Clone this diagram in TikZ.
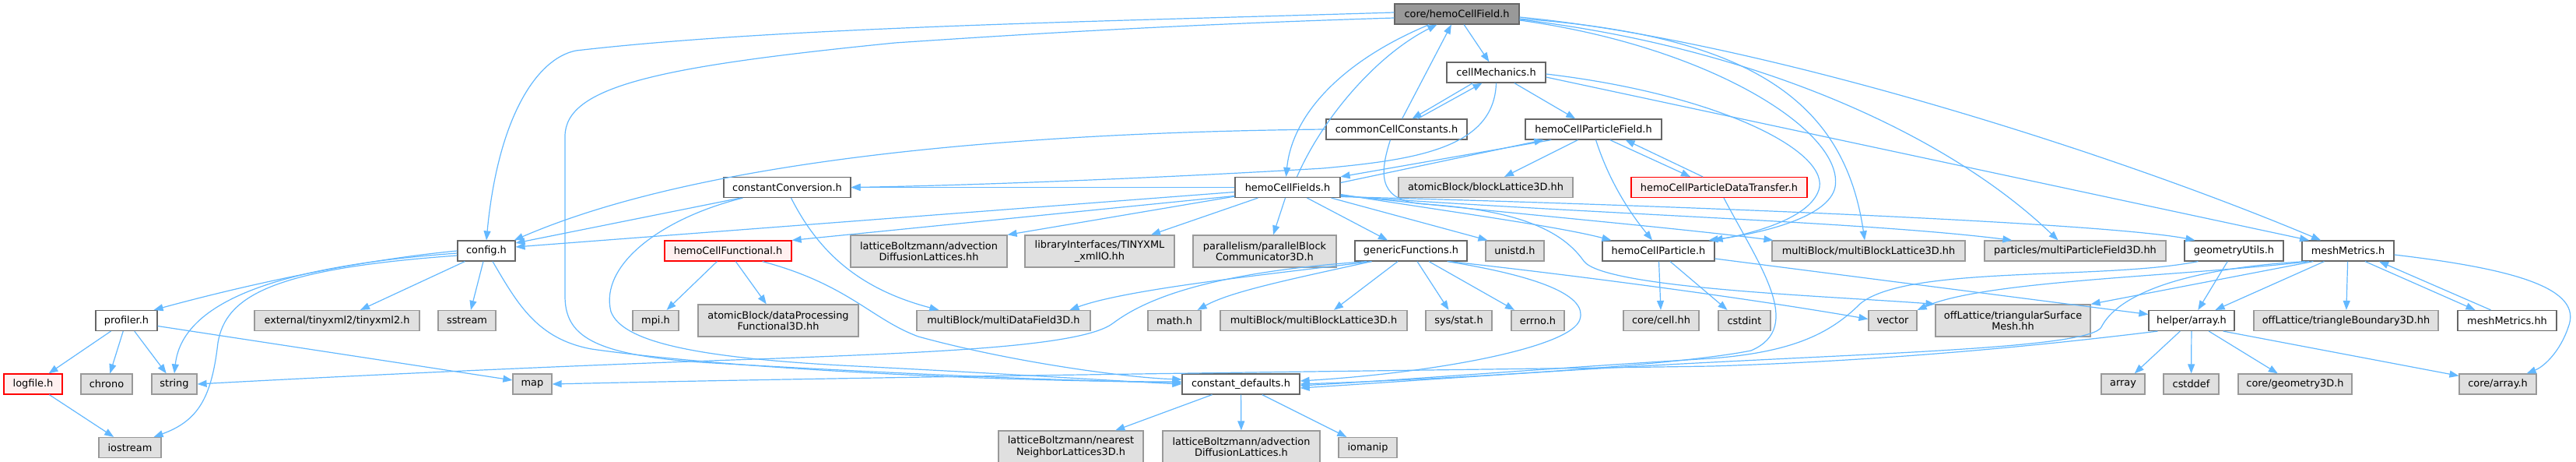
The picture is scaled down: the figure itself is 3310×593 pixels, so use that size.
\documentclass[tikz,border=0pt]{standalone}
\usepackage{fontspec}
\setmainfont{DejaVu Sans}
\usetikzlibrary{arrows.meta,calc}
\definecolor{edgec}{HTML}{63B8FF}
\definecolor{nborder}{HTML}{666666}
\definecolor{gfill}{HTML}{E0E0E0}
\definecolor{gborder}{HTML}{999999}
\definecolor{rootfill}{HTML}{999999}
\definecolor{rfill}{HTML}{FFF0F0}
\definecolor{rborder}{HTML}{FF0000}
\begin{document}
\begin{tikzpicture}[x=1pt,y=-1pt,
 base/.style={rectangle,inner sep=0pt,minimum height=26pt,line width=1.2pt,font=\fontsize{12.9}{14.5}\selectfont,align=center},
 wbox/.style={base,draw=nborder,fill=white},
 gbox/.style={base,draw=gborder,fill=gfill},
 rbox/.style={base,draw=rborder,fill=rfill},
 rootbox/.style={base,draw=nborder,fill=rootfill},
 tall/.style={minimum height=41pt},
 e/.style={draw=edgec,line width=1.2pt,-{Triangle[length=12pt,width=9pt]}},
]
\useasboundingbox (0,0) rectangle (3310,593);
% ---------- nodes ----------
\node[rootbox,minimum width=160pt] (root) at (1872,18) {core/hemoCellField.h};
\node[wbox,minimum width=127pt] (cm) at (1922.5,93) {cellMechanics.h};
\node[wbox,minimum width=181pt] (ccc) at (1794.5,166) {commonCellConstants.h};
\node[wbox,minimum width=175pt] (hcpf) at (2047.5,166) {hemoCellParticleField.h};
\node[wbox,minimum width=163pt] (cc) at (1011.5,240.5) {constantConversion.h};
\node[wbox,minimum width=135pt] (hcfs) at (1654.5,240.5) {hemoCellFields.h};
\node[gbox,minimum width=224pt] (blk) at (1909,240.5) {atomicBlock/blockLattice3D.hh};
\node[rbox,minimum width=226pt] (hcpdt) at (2209,240.5) {hemoCellParticleDataTransfer.h};
% row E
\node[wbox,minimum width=74pt] (cfg) at (625,322) {config.h};
\node[rbox,minimum width=163pt] (hcfn) at (935.5,322) {hemoCellFunctional.h};
\node[gbox,tall,minimum width=201pt] (adlhh) at (1193.5,322.5) {latticeBoltzmann/advection\\DiffusionLattices.hh};
\node[gbox,tall,minimum width=192pt] (txio) at (1413,322.5) {libraryInterfaces/TINYXML\\\_xmlIO.hh};
\node[gbox,tall,minimum width=184pt] (pbc) at (1625,322.5) {parallelism/parallelBlock\\Communicator3D.h};
\node[wbox,minimum width=144pt] (gf) at (1813,322) {genericFunctions.h};
\node[gbox,minimum width=75pt] (uni) at (1946.5,322) {unistd.h};
\node[wbox,minimum width=144pt] (hcp) at (2131,322) {hemoCellParticle.h};
\node[gbox,minimum width=248pt] (mblhh) at (2401,322) {multiBlock/multiBlockLattice3D.hh};
\node[gbox,minimum width=233pt] (mpf) at (2666.5,322) {particles/multiParticleField3D.hh};
\node[wbox,minimum width=127pt] (geo) at (2870.5,322) {geometryUtils.h};
\node[wbox,minimum width=118pt] (mm) at (3017,322) {meshMetrics.h};
% row F
\node[wbox,minimum width=79pt] (prof) at (162.5,411.5) {profiler.h};
\node[gbox,minimum width=212pt] (tx2) at (433,411.5) {external/tinyxml2/tinyxml2.h};
\node[gbox,minimum width=74pt] (sst) at (600,411.5) {sstream};
\node[gbox,minimum width=59pt] (mpi) at (842.5,411.5) {mpi.h};
\node[gbox,tall,minimum width=206pt] (dpf) at (1000,411.5) {atomicBlock/dataProcessing\\Functional3D.hh};
\node[gbox,minimum width=223pt] (mdf) at (1289.5,411.5) {multiBlock/multiDataField3D.h};
\node[gbox,minimum width=68pt] (math) at (1509,411.5) {math.h};
\node[gbox,minimum width=240pt] (mbl) at (1688,411.5) {multiBlock/multiBlockLattice3D.h};
\node[gbox,minimum width=85pt] (sys) at (1874.5,411.5) {sys/stat.h};
\node[gbox,minimum width=68pt] (errno) at (1976,411.5) {errno.h};
\node[gbox,minimum width=97pt] (cellhh) at (2134.5,411.5) {core/cell.hh};
\node[gbox,minimum width=67pt] (cstdint) at (2241.5,411.5) {cstdint};
\node[gbox,minimum width=62pt] (vec) at (2432,411.5) {vector};
\node[gbox,tall,minimum width=199pt] (tsm) at (2586.5,411.5) {offLattice/triangularSurface\\Mesh.hh};
\node[wbox,minimum width=110pt] (harr) at (2816,411.5) {helper/array.h};
\node[gbox,minimum width=237pt] (tb3d) at (3014.5,411.5) {offLattice/triangleBoundary3D.hh};
\node[wbox,minimum width=127pt] (mmhh) at (3221.5,411.5) {meshMetrics.hh};
% row G
\node[rbox,minimum width=75pt] (logf) at (42.5,493) {logfile.h};
\node[gbox,minimum width=66pt] (chrono) at (137,493) {chrono};
\node[gbox,minimum width=58pt] (str) at (224,493) {string};
\node[gbox,minimum width=50pt] (map) at (684,493) {map};
\node[wbox,minimum width=151pt] (cdef) at (1594.5,493) {constant\_defaults.h};
\node[gbox,minimum width=56pt] (arr) at (2728,493) {array};
\node[gbox,minimum width=71pt] (cstddef) at (2815.5,493) {cstddef};
\node[gbox,minimum width=146pt] (g3d) at (2949,493) {core/geometry3D.h};
\node[gbox,minimum width=99pt] (carr) at (3209.5,493) {core/array.h};
% row H
\node[gbox,minimum width=80pt] (ios) at (167,574.5) {iostream};
\node[gbox,tall,minimum width=186pt] (nnl) at (1376,573.5) {latticeBoltzmann/nearest\\NeighborLattices3D.h};
\node[gbox,tall,minimum width=202pt] (adlh) at (1595,573.5) {latticeBoltzmann/advection\\DiffusionLattices.h};
\node[gbox,minimum width=75pt] (ioman) at (1757.5,574.5) {iomanip};
% ---------- edges ----------
% root
\draw[e] (root) -- (cm);
\draw[e] ($(root.west)+(0,-2)$) .. controls (1400,28) and (1000,35) .. (740,65) .. controls (690,75) and (640,150) .. (cfg.north);
\draw[e] ($(root.west)+(0,5)$) .. controls (1500,32) and (1300,45) .. (1150,55) .. controls (850,85) and (726,110) .. (726,175) -- (726,380) .. controls (726,430) and (760,455) .. (900,465) .. controls (1150,480) and (1400,490) .. ($(cdef.west)+(0,-2)$);
\draw[e] ($(root.south west)+(45,0)$) .. controls (1720,80) and (1660,150) .. ($(hcfs.north)+(-2,0)$);
\draw[e] ($(root.east)+(0,4)$) .. controls (2250,50) and (2700,190) .. ($(mm.north)+(-35,0)$);
\draw[e] ($(root.east)+(0,6)$) .. controls (2250,45) and (2370,130) .. ($(mblhh.north)+(-5,0)$);
\draw[e] ($(root.east)+(0,7)$) .. controls (2250,60) and (2500,170) .. ($(mpf.north)+(-22,0)$);
\draw[e] ($(root.east)+(0,8)$) .. controls (2200,60) and (2370,170) .. (2358,240) .. controls (2350,280) and (2260,300) .. ($(hcp.north east)+(-8,0)$);
% commonCellConstants
\draw[e] (ccc) -- (root);
\draw[e] ($(ccc.north)+(27,0)$) -- ($(cm.south)+(-18,0)$);
\draw[e] (ccc.west) .. controls (1300,170) and (900,205) .. ($(cfg.north east)+(-2,0)$);
\draw[e] ($(ccc.south)+(-8,0)$) .. controls (1770,230) and (1775,258) .. (1830,262) .. controls (1960,270) and (2010,300) .. (2035,335) .. controls (2060,370) and (2350,380) .. (tsm.north west);
% cellMechanics
\draw[e] ($(cm.south)+(-30,0)$) -- ($(ccc.north)+(20,0)$);
\draw[e] (cm) -- (hcpf);
\draw[e] ($(cm.east)+(0,6)$) -- ($(mm.north)+(-50,0)$);
\draw[e] (cm.south) .. controls (1920,190) and (1820,205) .. (1700,216) .. controls (1500,228) and (1250,238) .. (cc.east);
\draw[e] ($(cm.east)+(0,2)$) .. controls (2200,120) and (2345,190) .. (2338,240) .. controls (2330,280) and (2250,300) .. ($(hcp.north east)+(-2,0)$);
% hemoCellFields
\draw[e] ($(hcfs.north)+(12,0)$) .. controls (1700,150) and (1770,70) .. ($(root.south west)+(55,0)$);
\draw[e] (hcfs) -- (cc);
\draw[e] ($(hcfs.west)+(0,6)$) -- ($(cfg.east)+(0,-5)$);
\draw[e] ($(hcfs.west)+(0,11)$) -- (hcfn.north east);
\draw[e] ($(hcfs.south west)+(0,-2)$) -- (adlhh.north east);
\draw[e] ($(hcfs.south west)+(30,0)$) -- ($(txio.north)+(66,0)$);
\draw[e] ($(hcfs.south)+(-3,0)$) -- ($(pbc.north)+(11,0)$);
\draw[e] ($(hcfs.south)+(25,0)$) -- ($(gf.north)+(-30,0)$);
\draw[e] ($(hcfs.south east)+(-12,0)$) -- ($(uni.north west)+(3,0)$);
\draw[e] ($(hcfs.east)+(0,9)$) .. controls (1850,270) and (2000,290) .. ($(hcp.north west)+(12,0)$);
\draw[e] ($(hcfs.east)+(0,10)$) .. controls (1950,275) and (2150,292) .. ($(mblhh.north west)+(2,0)$);
\draw[e] ($(hcfs.east)+(0,11)$) .. controls (2050,275) and (2400,285) .. ($(mpf.north west)+(36,0)$);
\draw[e] ($(hcfs.east)+(0,12)$) .. controls (2100,262) and (2700,285) .. ($(geo.north west)+(14,0)$);
\draw[e] ($(hcfs.east)+(0,-6)$) -- ($(hcpf.south west)+(24,0)$);
% hemoCellParticleField
\draw[e] ($(hcpf.south west)+(34,0)$) -- (hcfs.north east);
\draw[e] ($(hcpf.south)+(-20,0)$) -- ($(blk.north)+(24,0)$);
\draw[e] ($(hcpf.south)+(3,0)$) .. controls (2070,240) and (2100,280) .. ($(hcp.north)+(-8,0)$);
\draw[e] ($(hcpf.south east)+(-67,0)$) -- ($(hcpdt.north)+(-37,0)$);
% hemoCellParticleDataTransfer
\draw[e] ($(hcpdt.north)+(-21,0)$) -- ($(hcpf.south east)+(-47,0)$);
\draw[e] ($(hcpdt.south)+(6,0)$) .. controls (2260,340) and (2320,420) .. (2250,450) .. controls (2150,470) and (1850,487) .. (cdef.east);
% hemoCellParticle
\draw[e] (hcp) -- (cellhh);
\draw[e] ($(hcp.south)+(15,0)$) -- ($(cstdint.north)+(-22,0)$);
\draw[e] ($(hcp.east)+(0,10)$) -- ($(harr.west)+(0,-8)$);
% genericFunctions
\draw[e] ($(gf.south west)+(22,0)$) .. controls (1650,350) and (1450,370) .. ($(mdf.north)+(85,0)$);
\draw[e] ($(gf.south west)+(22,0)$) .. controls (1650,360) and (1580,375) .. ($(math.north east)+(-5,0)$);
\draw[e] ($(gf.south west)+(16,0)$) .. controls (1550,350) and (1470,385) .. (1430,415) .. controls (1390,445) and (1200,452) .. (1000,460) .. controls (700,470) and (400,485) .. (str.east);
\draw[e] ($(gf.south)+(-17,0)$) -- ($(mbl.north)+(26,0)$);
\draw[e] ($(gf.south)+(8,0)$) -- ($(sys.north)+(-13,0)$);
\draw[e] ($(gf.south)+(23,0)$) -- ($(errno.north)+(-30,0)$);
\draw[e] ($(gf.south east)+(-24,0)$) .. controls (1950,345) and (2200,375) .. ($(vec.west)+(0,-2)$);
\draw[e] ($(gf.south east)+(-26,0)$) .. controls (1980,355) and (2040,380) .. (2030,410) .. controls (2020,445) and (1850,478) .. ($(cdef.east)+(0,-4)$);
% config
\draw[e] (cfg.west) .. controls (450,335) and (300,370) .. ($(prof.north east)+(-5,0)$);
\draw[e] ($(cfg.west)+(0,3)$) .. controls (380,340) and (235,380) .. (str.north);
\draw[e] ($(cfg.west)+(0,6)$) .. controls (350,345) and (290,380) .. (280,440) .. controls (272,510) and (255,540) .. ($(ios.north east)+(-10,0)$);
\draw[e] ($(cfg.south west)+(10,0)$) -- ($(tx2.north)+(30,0)$);
\draw[e] ($(cfg.south)+(-4,0)$) -- ($(sst.north)+(5,0)$);
\draw[e] ($(cfg.south)+(8,0)$) .. controls (665,390) and (690,435) .. (760,448) .. controls (950,475) and (1300,490) .. ($(cdef.west)+(0,-3)$);
% profiler, logfile
\draw[e] (prof) -- (logf);
\draw[e] (prof) -- (chrono);
\draw[e] (prof) -- (str);
\draw[e] ($(prof.east)+(0,7)$) -- ($(map.west)+(0,-5)$);
\draw[e] (logf) -- (ios);
% constantConversion
\draw[e] ($(cc.south west)+(22,0)$) -- ($(cfg.east)+(0,-10)$);
\draw[e] ($(cc.south west)+(25,0)$) .. controls (850,280) and (770,340) .. (785,400) .. controls (800,440) and (900,460) .. (1100,470) .. controls (1300,480) and (1450,490) .. (cdef.west);
\draw[e] ($(cc.south)+(5,0)$) .. controls (1050,320) and (1100,370) .. ($(mdf.north west)+(29,0)$);
% hemoCellFunctional
\draw[e] (hcfn) -- (mpi);
\draw[e] (hcfn) -- (dpf);
\draw[e] ($(hcfn.south east)+(-38,0)$) .. controls (1090,365) and (1120,410) .. (1180,432) .. controls (1300,465) and (1450,485) .. ($(cdef.west)+(0,-6)$);
% constant_defaults
\draw[e] (cdef) -- (nnl);
\draw[e] (cdef) -- (adlh);
\draw[e] (cdef) -- (ioman);
% geometryUtils
\draw[e] (geo) -- (harr);
\draw[e] ($(geo.south west)+(18,0)$) .. controls (2700,360) and (2450,340) .. (2390,390) .. controls (2350,430) and (2300,452) .. (2200,460) .. controls (2000,472) and (1800,488) .. ($(cdef.east)+(0,2)$);
% meshMetrics
\draw[e] (mm) -- (harr);
\draw[e] (mm) -- (tb3d);
\draw[e] ($(mm.south)+(22,0)$) -- ($(mmhh.north)+(-41,0)$);
\draw[e] ($(mmhh.north)+(-21,0)$) -- ($(mm.south)+(40,0)$);
\draw[e] ($(mm.east)+(0,5)$) .. controls (3230,345) and (3320,370) .. (3300,420) .. controls (3290,450) and (3270,470) .. ($(carr.north east)+(-13,0)$);
\draw[e] ($(mm.south west)+(15,0)$) -- (tsm.north east);
\draw[e] ($(mm.south west)+(10,0)$) .. controls (2800,355) and (2550,360) .. (vec.north east);
\draw[e] ($(mm.south west)+(5,0)$) .. controls (2800,345) and (2720,380) .. (2700,420) .. controls (2685,445) and (2450,452) .. (2200,465) .. controls (2000,475) and (1800,490) .. ($(cdef.east)+(0,5)$);
% helper/array
\draw[e] (harr) -- (arr);
\draw[e] (harr) -- (cstddef);
\draw[e] (harr) -- (g3d);
\draw[e] ($(harr.south east)+(-15,0)$) -- ($(carr.north west)+(0,3)$);
\draw[e] ($(harr.south west)+(12,0)$) .. controls (2650,440) and (2450,462) .. (2200,470) .. controls (1800,476) and (1200,482) .. (map.east);
\end{tikzpicture}
\end{document}
